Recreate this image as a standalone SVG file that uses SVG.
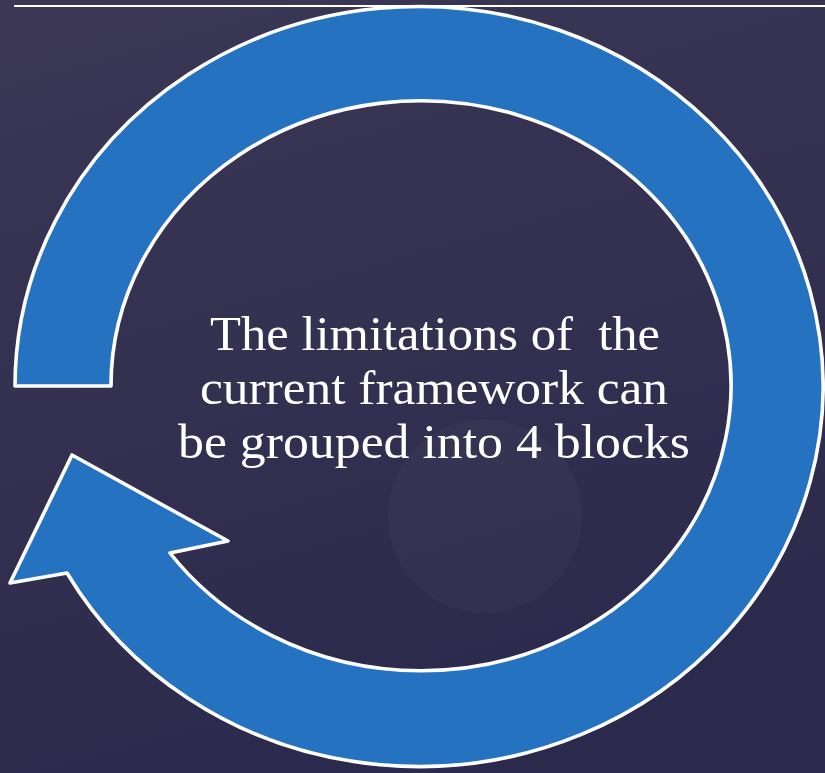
<svg xmlns="http://www.w3.org/2000/svg" width="825" height="773" viewBox="0 0 825 773">
  <defs>
    <linearGradient id="bg" x1="0" y1="0" x2="0.3" y2="1">
      <stop offset="0" stop-color="#3b3755"/>
      <stop offset="1" stop-color="#2c2a4c"/>
    </linearGradient>
    <style>
      .ring { fill: #2572c1; stroke: #ffffff; stroke-width: 3.6; stroke-linejoin: round; }
      .label { font-family: "Liberation Serif", "DejaVu Serif", serif; font-size: 48px; fill: #ffffff; text-anchor: middle; white-space: pre; }
    </style>
  </defs>

  <!-- background -->
  <rect x="0" y="0" width="825" height="773" fill="url(#bg)"/>
  <circle cx="485" cy="516" r="97" fill="#ffffff" fill-opacity="0.028"/>
  <line x1="14" y1="6" x2="825" y2="6" stroke="#ffffff" stroke-width="1.8"/>

  <!-- circular arrow -->
  <g id="cycle-arrow">
    <path class="ring" d="M 15 386
      A 404 380 0 1 1 67 573
      L 10 583
      L 72 455
      L 228 541
      L 170 553
      A 310 285 0 1 0 111 386
      Z"/>
  </g>

  <!-- centre label -->
  <g id="label">
    <text class="label" x="435" y="350" textLength="450" lengthAdjust="spacingAndGlyphs">The limitations of  the</text>
    <text class="label" x="434" y="404" textLength="468" lengthAdjust="spacingAndGlyphs">current framework can</text>
    <text class="label" x="434" y="458" textLength="512" lengthAdjust="spacingAndGlyphs">be grouped into 4 blocks</text>
  </g>
</svg>
